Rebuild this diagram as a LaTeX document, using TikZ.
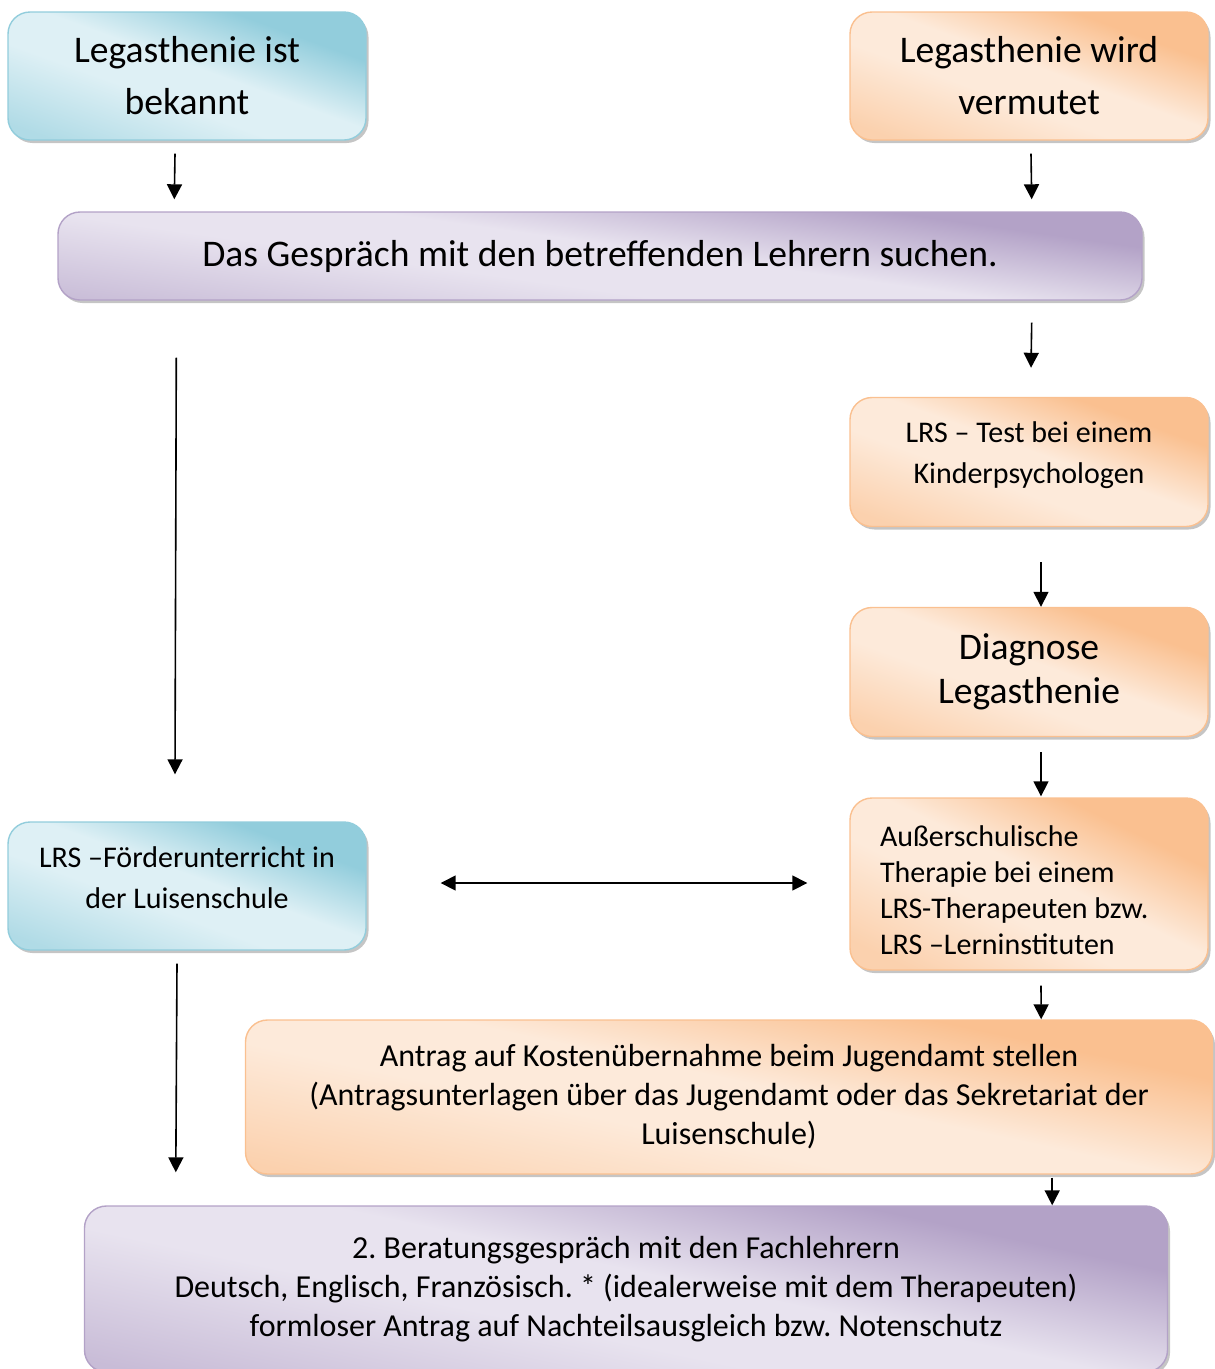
\documentclass[tikz,border=0pt]{standalone}
\usepackage{fontspec}
\setmainfont{Carlito}
\usetikzlibrary{arrows.meta,shadows,calc}
\frenchspacing
\definecolor{bludark}{HTML}{92CDDC}
\definecolor{blulite}{HTML}{DEF0F5}
\definecolor{oradark}{HTML}{FAC090}
\definecolor{oralite}{HTML}{FDEADA}
\definecolor{purdark}{HTML}{B3A2C7}
\definecolor{purlite}{HTML}{E8E3EF}
% diagonal gradient: dark corner, light band, medium corner
\newcommand\boxshade[3]{\pgfdeclarehorizontalshading{#1}{100bp}{color(0bp)=(#2); color(30bp)=(#2);
  color(47bp)=(#3); color(58bp)=(#3); color(78bp)=(#2!60!#3); color(100bp)=(#2!60!#3)}}
\boxshade{blushade}{bludark}{blulite}
\boxshade{orashade}{oradark}{oralite}
\boxshade{purshade}{purdark}{purlite}
\newcommand\bigtxt{\fontsize{37.6}{52}\selectfont}
\newcommand\smalltxt{\fontsize{30}{41}\selectfont}
\newcommand\lift[1]{\rule[-#1]{0pt}{#1}}

\begin{document}
\begin{tikzpicture}[x=1pt,y=-1pt,
  mybox/.style={rounded corners=22pt,line width=1.4pt,inner sep=0pt,align=center,
    drop shadow={shadow xshift=2.5pt,shadow yshift=-3pt,fill=black!45},font=\smalltxt},
  blu/.style={mybox,draw=bludark,shading=blushade,shading angle=250},
  ora/.style={mybox,draw=oradark,shading=orashade,shading angle=250},
  pur/.style={mybox,draw=purdark,shading=purshade,shading angle=250},
  arr/.style={line width=1.6pt,>={Triangle[length=15pt,width=15pt]}}]
\useasboundingbox (0,0) rectangle (1215,1369);

% left column
\node[blu,minimum width=358,minimum height=128,font=\bigtxt] (known) at (187,76) {Legasthenie ist\\bekannt};
\node[blu,minimum width=358,minimum height=128] (school) at (187,886)
  {LRS --Förderunterricht in\\der Luisenschule\lift{17pt}};

% right column
\node[ora,minimum width=358,minimum height=128,font=\bigtxt] (guess) at (1029,76) {Legasthenie wird\\vermutet};
\node[ora,minimum width=358,minimum height=129] (test) at (1029,462)
  {LRS -- Test bei einem\\Kinderpsychologen\lift{19pt}};
\node[ora,minimum width=358,minimum height=129,font={\fontsize{37.6}{44}\selectfont}] (diag) at (1029,672)
  {Diagnose\\Legasthenie};
\node[ora,minimum width=358,minimum height=172,text width=298,inner xsep=30pt,align=flush left,
  font={\fontsize{30}{36}\selectfont},shading angle=244] (thera) at (1029,884)
  {\rule{0pt}{34pt}Außerschulische\\Therapie bei einem\\LRS-Therapeuten bzw.\\LRS --Lerninstituten};

% wide boxes
\node[pur,minimum width=1084,minimum height=88,font=\bigtxt,shading angle=262] (talk) at (600,256)
  {Das Gespräch mit den betreffenden Lehrern suchen.};
\node[ora,minimum width=967,minimum height=154,font={\fontsize{32}{39}\selectfont},shading angle=258] (apply) at (729,1097)
  {Antrag auf Kostenübernahme beim Jugendamt stellen\\(Antragsunterlagen über das Jugendamt oder das Sekretariat der\\Luisenschule)};
\node[pur,minimum width=1083,minimum height=166,font={\fontsize{32}{39}\selectfont},shading angle=258] (meet) at (626,1289)
  {2. Beratungsgespräch mit den Fachlehrern\\Deutsch, Englisch, Französisch. * (idealerweise mit dem Therapeuten)\\formloser Antrag auf Nachteilsausgleich bzw. Notenschutz};

% arrows
\draw[arr,->] ($(known.south)+(-12,13)$) -- ($(talk.north west)+(117,-12)$);
\draw[arr,->] ($(guess.south)+(2,13)$) -- ($(talk.north east)+(-111,-12)$);
\draw[arr,->] ($(talk.south east)+(-111,22)$) -- ($(test.north)+(2,-29)$);
\draw[arr,->] ($(test.south)+(12,35)$) -- ($(diag.north)+(12,0)$);
\draw[arr,->] ($(diag.south)+(12,15)$) -- ($(thera.north)+(12,-1)$);
\draw[arr,->] ($(talk.south west)+(119,57)$) -- ($(school.north)+(-12,-47)$);
\draw[arr,<->] ($(school.east)+(74,-3)$) -- ($(thera.west)+(-42,-1)$);
\draw[arr,->] ($(school.south)+(-10,13)$) -- ($(meet.north west)+(92,-33)$);
\draw[arr,->] ($(thera.south)+(12,15)$) -- ($(apply.north east)+(-172,0)$);
\draw[arr,->] ($(apply.south east)+(-161,3)$) -- ($(meet.north east)+(-116,0)$);
\end{tikzpicture}
\end{document}
